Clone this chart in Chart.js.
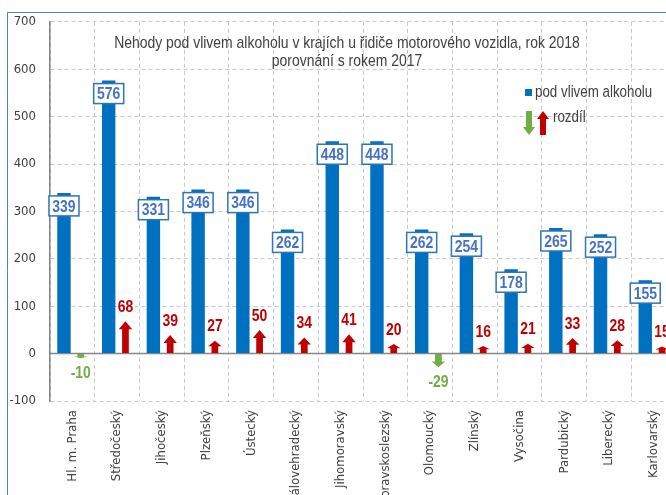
<!DOCTYPE html>
<html>
<head>
<meta charset="utf-8">
<title>Nehody pod vlivem alkoholu</title>
<script src="https://cdn.jsdelivr.net/npm/chart.js@4"></script>
<style>
    body { margin: 0; background: #fff; overflow: hidden; }
    canvas { display: block; }
</style>
</head>
<body>
<canvas id="myChart" width="680" height="530"></canvas>
<script>
var kraje = ['Hl. m. Praha', 'Středočeský', 'Jihočeský', 'Plzeňský', 'Ústecký', 'Královehradecký',
    'Jihomoravský', 'Moravskoslezský', 'Olomoucký', 'Zlínský', 'Vysočina', 'Pardubický', 'Liberecký', 'Karlovarský'];
var nehody2018 = [339, 576, 331, 346, 346, 262, 448, 448, 262, 254, 178, 265, 252, 155];
var rozdil = [-10, 68, 39, 27, 50, 34, 41, 20, -29, 16, 21, 33, 28, 15];
var yTicks = [-100, 0, 100, 200, 300, 400, 500, 600, 700];

var condensed = '"DejaVu Sans Condensed", "Liberation Sans", sans-serif';
var arial = '"Liberation Sans", Arial, sans-serif';
var blue = '#0070c0';
var red = '#c00000';
var green = '#70ad47';
var textGray = '#404040';

// text zuzeny na sirku (nahrada za Arial Narrow)
function narrowText(ctx, text, x, y, font, color, align) {
    ctx.save();
    ctx.font = font;
    ctx.fillStyle = color;
    ctx.textAlign = align || 'center';
    ctx.textBaseline = 'middle';
    ctx.translate(x, y);
    ctx.scale(0.82, 1);
    ctx.fillText(text, 0, 0);
    ctx.restore();
}

// sipka nahoru nebo dolu od base po tip
function drawArrow(ctx, cx, yBase, yTip, width, color) {
    var h = Math.abs(yTip - yBase);
    if (h < 0.5) return;
    var dir = yTip < yBase ? -1 : 1;
    var headH = Math.min(8, h * 0.45);
    var shaft = width * 0.5;
    var yNeck = yTip - dir * headH;
    ctx.save();
    ctx.fillStyle = color;
    ctx.beginPath();
    ctx.moveTo(cx - shaft / 2, yBase);
    ctx.lineTo(cx - shaft / 2, yNeck);
    ctx.lineTo(cx - width / 2, yNeck);
    ctx.lineTo(cx, yTip);
    ctx.lineTo(cx + width / 2, yNeck);
    ctx.lineTo(cx + shaft / 2, yNeck);
    ctx.lineTo(cx + shaft / 2, yBase);
    ctx.closePath();
    ctx.fill();
    ctx.restore();
}

var decorPlugin = {
    id: 'decor',
    beforeDraw: function(chart) {
        var ctx = chart.ctx;
        ctx.save();
        ctx.strokeStyle = '#4f81bd';
        ctx.lineWidth = 1;
        ctx.beginPath();
        ctx.moveTo(7.5, chart.height);
        ctx.lineTo(7.5, 12.5);
        ctx.lineTo(chart.width, 12.5);
        ctx.stroke();
        ctx.restore();
    },
    beforeDatasetsDraw: function(chart) {
        var ctx = chart.ctx;
        var area = chart.chartArea;
        var y0 = chart.scales.y.getPixelForValue(0);
        ctx.save();
        ctx.strokeStyle = '#868686';
        ctx.lineWidth = 1.5;
        ctx.beginPath();
        ctx.moveTo(area.left, y0);
        ctx.lineTo(area.right, y0);
        ctx.stroke();
        ctx.restore();
    },
    afterDatasetsDraw: function(chart) {
        var ctx = chart.ctx;
        var bars = chart.getDatasetMeta(0).data;
        var arrows = chart.getDatasetMeta(1).data;

        // rozdil - sipky a popisky
        arrows.forEach(function(el, i) {
            var v = rozdil[i];
            var col = v < 0 ? green : red;
            drawArrow(ctx, el.x, el.base, el.y, el.width, col);
            var ly = v < 0 ? el.y + 15 : el.y - 14;
            narrowText(ctx, String(v), el.x, ly, 'bold 17px ' + arial, col);
        });

        // popisky hodnot v ramecku
        bars.forEach(function(el, i) {
            var w = 30, h = 20;
            var cy = el.y + 13;
            ctx.save();
            ctx.fillStyle = '#ffffff';
            ctx.fillRect(el.x - w / 2, cy - h / 2, w, h);
            ctx.strokeStyle = '#2e75b6';
            ctx.lineWidth = 1.5;
            ctx.strokeRect(el.x - w / 2, cy - h / 2, w, h);
            ctx.restore();
            narrowText(ctx, String(nehody2018[i]), el.x, cy + 1, 'bold 17px ' + arial, '#4472c4');
        });
    },
    afterDraw: function(chart) {
        var ctx = chart.ctx;
        var titleFont = '17px ' + arial;
        var legendFont = '16.3px ' + arial;
        narrowText(ctx, 'Nehody pod vlivem alkoholu v krajích u řidiče motorového vozidla, rok 2018', 347, 43, titleFont, textGray);
        narrowText(ctx, 'porovnání s rokem 2017', 347, 61, titleFont, textGray);

        // legenda
        ctx.save();
        ctx.fillStyle = blue;
        ctx.fillRect(525, 89, 7, 7);
        ctx.restore();
        narrowText(ctx, 'pod vlivem alkoholu', 535, 93, legendFont, textGray, 'left');
        drawArrow(ctx, 529, 111, 135, 12, green);
        drawArrow(ctx, 543, 135, 111, 12, red);
        narrowText(ctx, 'rozdíl', 553, 118, legendFont, textGray, 'left');
    }
};

var ctx = document.getElementById('myChart').getContext('2d');
var myChart = new Chart(ctx, {
    type: 'bar',
    data: {
        labels: kraje,
        datasets: [{
            label: 'pod vlivem alkoholu',
            data: nehody2018,
            backgroundColor: blue,
            categoryPercentage: 0.75,
            barPercentage: 0.8
        }, {
            label: 'rozdíl',
            data: rozdil,
            backgroundColor: 'rgba(0,0,0,0)',
            categoryPercentage: 0.75,
            barPercentage: 0.8
        }]
    },
    options: {
        responsive: false,
        animation: false,
        layout: { padding: { top: 21, right: 4, left: 0, bottom: 0 } },
        plugins: {
            legend: { display: false },
            tooltip: { enabled: false }
        },
        scales: {
            x: {
                grid: { color: '#c8c8c8', drawTicks: false, offset: true },
                border: { display: false, dash: [4, 3] },
                ticks: {
                    autoSkip: false,
                    maxRotation: 90,
                    minRotation: 90,
                    padding: 9,
                    color: textGray,
                    font: { family: condensed, size: 13 }
                },
                afterFit: function(scale) { scale.height = 129; }
            },
            y: {
                min: -100,
                max: 700,
                afterBuildTicks: function(scale) {
                    scale.ticks = yTicks.map(function(v) { return { value: v }; });
                },
                grid: { color: '#c8c8c8', drawTicks: false },
                border: { display: true, color: '#868686', width: 1.5, dash: [4, 3] },
                ticks: {
                    padding: 14,
                    color: textGray,
                    font: { family: condensed, size: 13 }
                },
                afterFit: function(scale) { scale.width = 50; }
            }
        }
    },
    plugins: [decorPlugin]
});
</script>
</body>
</html>
